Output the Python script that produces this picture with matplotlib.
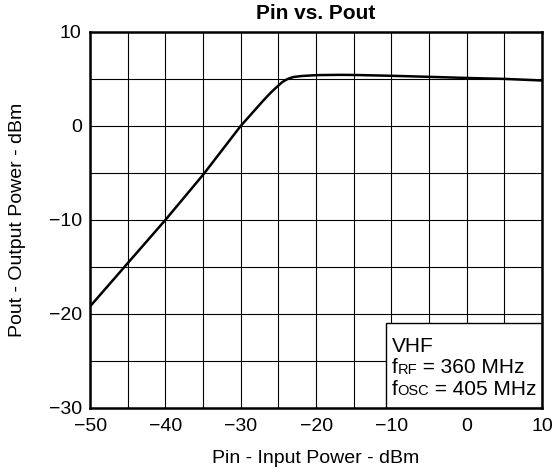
import matplotlib
matplotlib.use("Agg")
import matplotlib.pyplot as plt
import matplotlib.transforms as mtransforms
from matplotlib.patches import Rectangle
import numpy as np

plt.rcParams["font.family"] = ["Liberation Sans", "DejaVu Sans"]

# Pin (dBm) vs Pout (dBm)
pin = [-50, -45, -40, -35, -30, -28, -27, -26, -25, -24.5, -24, -23.5,
       -23, -22, -20, -17, -15, -10, -5, 0, 5, 10]
pout = [-19.2, -14.6, -10.0, -5.2, 0.0, 1.8, 2.7, 3.55, 4.3, 4.65, 4.9,
        5.08, 5.2, 5.3, 5.4, 5.43, 5.42, 5.33, 5.22, 5.1, 5.0, 4.83]

x_ticks = [-50, -40, -30, -20, -10, 0, 10]
y_ticks = [-30, -20, -10, 0, 10]

# condition box lines: (main, subscript, rest)
box_lines = [("VHF", "", ""),
             ("f", "RF", " = 360 MHz"),
             ("f", "OSC", " = 405 MHz")]

fig = plt.figure(figsize=(5.56, 4.76), dpi=100)
ax = fig.add_axes([0.162, 0.143, 0.813, 0.790])

ax.plot(pin, pout, color="black", linewidth=1.8, zorder=3,
        solid_joinstyle="round")

ax.set_xlim(-50, 10)
ax.set_ylim(-30, 10)
ax.set_xticks(x_ticks)
ax.set_yticks(y_ticks)
ax.set_xticks(np.arange(-50, 11, 5), minor=True)
ax.set_yticks(np.arange(-30, 11, 5), minor=True)
ax.grid(which="both", color="black", linewidth=0.8)
ax.tick_params(which="both", length=0, labelsize=14)
ax.tick_params(axis="x", pad=7)
ax.tick_params(axis="y", pad=6)
for s in ax.spines.values():
    s.set_linewidth(1.8)
    s.set_zorder(6)

ax.set_xlabel("Pin - Input Power - dBm", fontsize=14, labelpad=11)
ax.set_ylabel("Pout - Output Power - dBm", fontsize=14, labelpad=16)
ax.set_title("Pin vs. Pout", fontsize=15, fontweight="bold", pad=9)

# Condition box
ax.add_patch(Rectangle((0.655, 0.0), 0.345, 0.226, transform=ax.transAxes,
                       facecolor="white", edgecolor="black", linewidth=1.0,
                       zorder=5))
renderer = fig.canvas.get_renderer()
x0, y_top, step = 0.667, 0.149, 0.057
for i, (main, sub, rest) in enumerate(box_lines):
    y = y_top - i * step
    t = ax.text(x0, y, main, transform=ax.transAxes, fontsize=15,
                ha="left", va="baseline", zorder=7)
    if not sub:
        continue
    w = t.get_window_extent(renderer).width * 72 / fig.dpi
    tr = mtransforms.offset_copy(ax.transAxes, fig=fig, x=w, y=-0.5,
                                 units="points")
    ts = ax.text(x0, y, sub, transform=tr, fontsize=10.5,
                 ha="left", va="baseline", zorder=7)
    w2 = w + ts.get_window_extent(renderer).width * 72 / fig.dpi
    tr2 = mtransforms.offset_copy(ax.transAxes, fig=fig, x=w2, y=0,
                                  units="points")
    ax.text(x0, y, rest, transform=tr2, fontsize=15,
            ha="left", va="baseline", zorder=7)

fig.savefig("out.png", dpi=100, facecolor="white")
